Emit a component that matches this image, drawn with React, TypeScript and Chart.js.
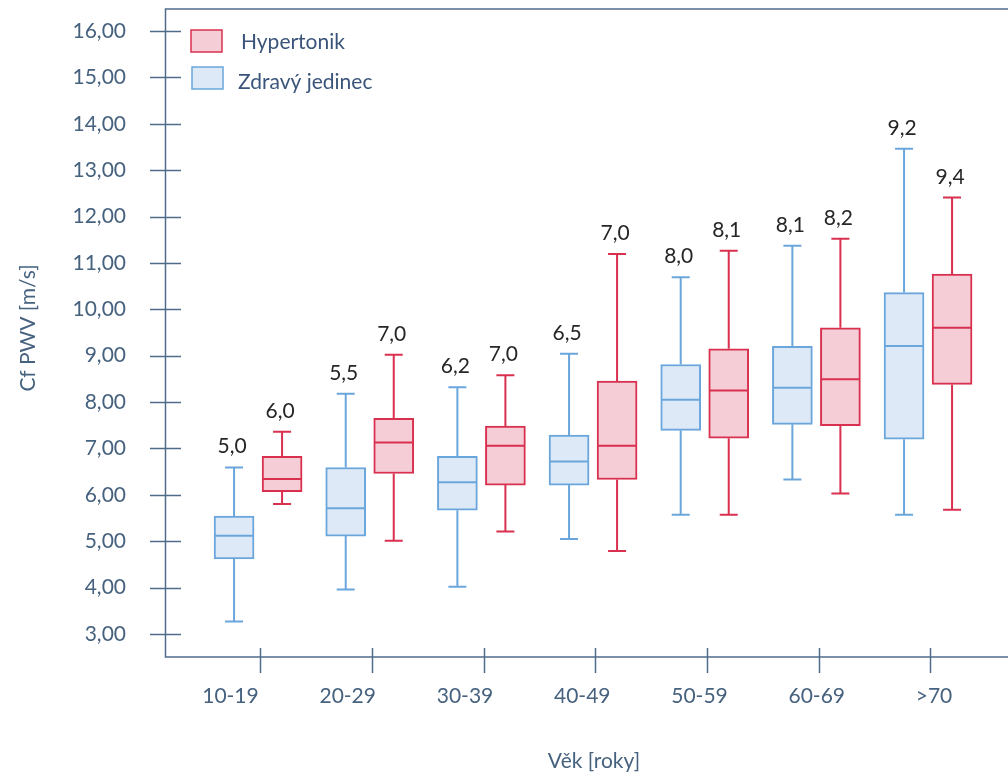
import React, { useEffect, useRef } from 'react';
import { Chart, registerables } from 'chart.js';

Chart.register(...registerables);

// ---------- data ----------
const categories = ['10-19', '20-29', '30-39', '40-49', '50-59', '60-69', '>70'];

const seriesNames = ['Hypertonik', 'Zdravý jedinec'];

// Hypertonik
const hyperMin = [5.80, 5.01, 5.21, 4.79, 5.57, 6.03, 5.68];
const hyperQ1 = [6.07, 6.46, 6.21, 6.33, 7.22, 7.49, 8.38];
const hyperMedian = [6.34, 7.13, 7.06, 7.06, 8.25, 8.49, 9.60];
const hyperQ3 = [6.83, 7.65, 7.48, 8.45, 9.15, 9.60, 10.76];
const hyperMax = [7.36, 9.02, 8.58, 11.19, 11.26, 11.52, 12.41];
const hyperLabels = [6.0, 7.0, 7.0, 7.0, 8.1, 8.2, 9.4];

// Zdravý jedinec
const healthyMin = [3.27, 3.96, 4.02, 5.05, 5.57, 6.33, 5.57];
const healthyQ1 = [4.62, 5.11, 5.67, 6.21, 7.39, 7.52, 7.20];
const healthyMedian = [5.12, 5.71, 6.27, 6.72, 8.05, 8.31, 9.21];
const healthyQ3 = [5.54, 6.59, 6.83, 7.29, 8.81, 9.20, 10.36];
const healthyMax = [6.59, 8.18, 8.32, 9.04, 10.69, 11.37, 13.46];
const healthyLabels = [5.0, 5.5, 6.2, 6.5, 8.0, 8.1, 9.2];

const yTickValues = [3, 4, 5, 6, 7, 8, 9, 10, 11, 12, 13, 14, 15, 16];
const yTitle = 'Cf PWV [m/s]';
const xTitle = 'Věk [roky]';

// ---------- styles ----------
const FONT = 'Lato, "Open Sans", sans-serif';
const TEXT_COLOR = '#46627f';
const LEGEND_COLOR = '#3b557a';
const AXIS_COLOR = '#4f6c8b';
const RED_STROKE = '#d9304f';
const RED_FILL = '#f4cdd6';
const BLUE_STROKE = '#6aa6dc';
const BLUE_FILL = '#dde9f6';
const RED_OFFSET = 0.195;
const BLUE_OFFSET = -0.235;
const BOX_WIDTH = 40;
const CAP_HALF = 9;

const fmt = (v: number, d: number) => v.toFixed(d).replace('.', ',');

const extrasPlugin = {
  id: 'boxExtras',
  beforeDatasetsDraw(chart: any) {
    const { ctx } = chart;
    const x = chart.scales.x;
    const y = chart.scales.y;
    ctx.save();
    chart.data.datasets.forEach((ds: any) => {
      const b = ds.box;
      ctx.strokeStyle = ds.borderColor;
      ctx.lineWidth = 2;
      ds.data.forEach((d: any, i: number) => {
        const cx = x.getPixelForValue(d.x);
        const pMax = y.getPixelForValue(b.max[i]);
        const pMin = y.getPixelForValue(b.min[i]);
        const pQ1 = y.getPixelForValue(d.y[0]);
        const pQ3 = y.getPixelForValue(d.y[1]);
        ctx.beginPath();
        ctx.moveTo(cx, pQ3);
        ctx.lineTo(cx, pMax);
        ctx.moveTo(cx - CAP_HALF, pMax);
        ctx.lineTo(cx + CAP_HALF, pMax);
        ctx.moveTo(cx, pQ1);
        ctx.lineTo(cx, pMin);
        ctx.moveTo(cx - CAP_HALF, pMin);
        ctx.lineTo(cx + CAP_HALF, pMin);
        ctx.stroke();
      });
    });
    ctx.restore();
  },
  afterDatasetsDraw(chart: any) {
    const { ctx, chartArea } = chart;
    const x = chart.scales.x;
    const y = chart.scales.y;
    ctx.save();
    // medians + value labels
    chart.data.datasets.forEach((ds: any) => {
      const b = ds.box;
      ds.data.forEach((d: any, i: number) => {
        const cx = x.getPixelForValue(d.x);
        const pMed = y.getPixelForValue(b.median[i]);
        ctx.strokeStyle = ds.borderColor;
        ctx.lineWidth = 2;
        ctx.beginPath();
        ctx.moveTo(cx - BOX_WIDTH / 2 + 1, pMed);
        ctx.lineTo(cx + BOX_WIDTH / 2 - 1, pMed);
        ctx.stroke();
        const pMax = y.getPixelForValue(b.max[i]);
        ctx.fillStyle = '#262626';
        ctx.font = `21px ${FONT}`;
        ctx.textAlign = 'center';
        ctx.textBaseline = 'alphabetic';
        ctx.fillText(fmt(b.labels[i], 1), cx - 2, pMax - 14);
      });
    });

    // frame
    ctx.strokeStyle = AXIS_COLOR;
    ctx.lineWidth = 1.5;
    ctx.beginPath();
    ctx.moveTo(chartArea.right, chartArea.top);
    ctx.lineTo(chartArea.left, chartArea.top);
    ctx.lineTo(chartArea.left, chartArea.bottom);
    ctx.lineTo(chartArea.right, chartArea.bottom);
    ctx.stroke();
    // y ticks (crossing)
    ctx.beginPath();
    yTickValues.forEach((v) => {
      const py = Math.round(y.getPixelForValue(v)) + 0.5;
      ctx.moveTo(chartArea.left - 15.5, py);
      ctx.lineTo(chartArea.left + 15.5, py);
    });
    // x ticks (crossing)
    categories.forEach((_, i) => {
      const px = Math.round(x.getPixelForValue(i)) + 0.5;
      ctx.moveTo(px, chartArea.bottom - 9);
      ctx.lineTo(px, chartArea.bottom + 16);
    });
    ctx.stroke();

    // legend
    const sw = [
      { fill: RED_FILL, stroke: RED_STROKE, x: 183, y: 22, tx: 233, ty: 41 },
      { fill: BLUE_FILL, stroke: BLUE_STROKE, x: 184, y: 59, tx: 230, ty: 81 },
    ];
    chart.data.datasets.forEach((ds: any, di: number) => {
      const s = sw[di];
      ctx.fillStyle = s.fill;
      ctx.fillRect(s.x, s.y, 31, 22);
      ctx.strokeStyle = s.stroke;
      ctx.lineWidth = 1.5;
      ctx.strokeRect(s.x, s.y, 31, 22);
      ctx.fillStyle = LEGEND_COLOR;
      ctx.font = `21px ${FONT}`;
      ctx.textAlign = 'left';
      ctx.textBaseline = 'alphabetic';
      ctx.fillText(ds.label, s.tx, s.ty);
    });

    // axis titles
    ctx.fillStyle = TEXT_COLOR;
    ctx.font = `21px ${FONT}`;
    ctx.textAlign = 'center';
    ctx.textBaseline = 'middle';
    ctx.fillText(xTitle, 586, 753);
    ctx.save();
    ctx.translate(20, 320);
    ctx.rotate(-Math.PI / 2);
    ctx.fillText(yTitle, 0, 0);
    ctx.restore();

    ctx.restore();
  },
};

export default function App() {
  const ref = useRef<HTMLCanvasElement | null>(null);

  useEffect(() => {
    if (!ref.current) return;
    const chart = new Chart(ref.current, {
      type: 'bar',
      data: {
        datasets: [
          {
            label: seriesNames[0],
            data: categories.map((_, i) => ({ x: i + RED_OFFSET, y: [hyperQ1[i], hyperQ3[i]] })),
            backgroundColor: RED_FILL,
            borderColor: RED_STROKE,
            borderWidth: 2,
            borderSkipped: false,
            barThickness: BOX_WIDTH,
            grouped: false,
            xAxisID: 'x',
            yAxisID: 'y',
            box: { min: hyperMin, median: hyperMedian, max: hyperMax, labels: hyperLabels },
          } as any,
          {
            label: seriesNames[1],
            data: categories.map((_, i) => ({ x: i + BLUE_OFFSET, y: [healthyQ1[i], healthyQ3[i]] })),
            backgroundColor: BLUE_FILL,
            borderColor: BLUE_STROKE,
            borderWidth: 2,
            borderSkipped: false,
            barThickness: BOX_WIDTH,
            grouped: false,
            xAxisID: 'x',
            yAxisID: 'y',
            box: { min: healthyMin, median: healthyMedian, max: healthyMax, labels: healthyLabels },
          } as any,
        ],
      },
      options: {
        animation: false,
        responsive: true,
        maintainAspectRatio: false,
        layout: { autoPadding: false, padding: { top: 1, right: 0, bottom: 0, left: 0 } },
        plugins: { legend: { display: false }, tooltip: { enabled: false } },
        scales: {
          x: {
            type: 'linear',
            display: false,
            offset: false,
            min: -0.849,
            max: 6.696,
          },
          xl: {
            type: 'linear',
            position: 'bottom',
            offset: false,
            min: -0.554,
            max: 6.631,
            afterBuildTicks: (s: any) => {
              s.ticks = categories.map((_, i) => ({ value: i }));
            },
            afterFit: (s: any) => {
              s.height = 121;
            },
            grid: { display: false, drawTicks: true, tickLength: 27 },
            border: { display: false },
            ticks: {
              padding: 0,
              color: TEXT_COLOR,
              font: { family: FONT, size: 21 },
              maxRotation: 0,
              autoSkip: false,
              callback: (v: any) => categories[Math.round(Number(v))] ?? '',
            },
          },
          y: {
            type: 'linear',
            min: 2.504,
            max: 16.474,
            afterBuildTicks: (s: any) => {
              s.ticks = yTickValues.map((v) => ({ value: v }));
            },
            afterFit: (s: any) => {
              s.width = 157.5;
            },
            grid: { display: false, drawTicks: true, tickLength: 39.5 },
            border: { display: false },
            ticks: {
              padding: 0,
              color: TEXT_COLOR,
              font: { family: FONT, size: 21, lineHeight: 0.05 },
              callback: (v: any) => fmt(Number(v), 2),
            },
          },
        } as any,
      },
      plugins: [extrasPlugin],
    } as any);
    return () => chart.destroy();
  }, []);

  return (
    <div style={{ position: 'absolute', left: 8, top: 8, width: 1000, height: 770 }}>
      <canvas ref={ref} />
    </div>
  );
}
